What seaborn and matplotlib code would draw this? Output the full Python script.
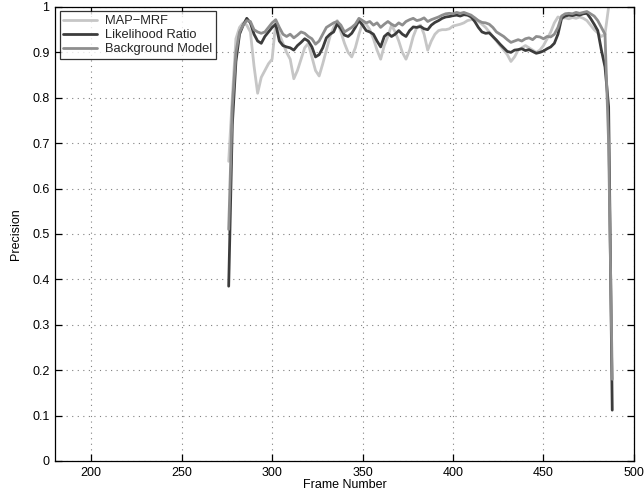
import numpy as np
import pandas as pd
import matplotlib
matplotlib.use("Agg")
import matplotlib.pyplot as plt
import seaborn as sns

# Frame numbers (every second frame)
frames = list(range(276, 490, 2))

map_mrf = [
    0.66, 0.80, 0.93, 0.955, 0.965, 0.96, 0.945, 0.87, 0.81, 0.845,
    0.86, 0.875, 0.885, 0.965, 0.94, 0.92, 0.90, 0.885, 0.842, 0.86,
    0.885, 0.91, 0.92, 0.89, 0.86, 0.848, 0.875, 0.905, 0.935, 0.955,
    0.97, 0.945, 0.92, 0.90, 0.89, 0.91, 0.94, 0.965, 0.962, 0.95,
    0.93, 0.905, 0.885, 0.915, 0.935, 0.96, 0.945, 0.925, 0.90, 0.885,
    0.905, 0.935, 0.955, 0.96, 0.94, 0.905, 0.925, 0.94, 0.948, 0.95,
    0.95, 0.952, 0.958, 0.96, 0.962, 0.965, 0.97, 0.972, 0.976, 0.968,
    0.962, 0.955, 0.945, 0.935, 0.925, 0.915, 0.905, 0.895, 0.88, 0.89,
    0.905, 0.91, 0.915, 0.91, 0.905, 0.90, 0.905, 0.915, 0.93, 0.945,
    0.965, 0.978, 0.975, 0.976, 0.974, 0.977, 0.975, 0.978, 0.975, 0.97,
    0.96, 0.95, 0.943, 0.935, 0.94, 1.0, np.nan,
]

likelihood_ratio = [
    0.385, 0.74, 0.88, 0.94, 0.96, 0.975, 0.965, 0.94, 0.925, 0.92,
    0.935, 0.945, 0.955, 0.962, 0.925, 0.915, 0.912, 0.91, 0.905, 0.915,
    0.922, 0.93, 0.925, 0.912, 0.89, 0.895, 0.91, 0.932, 0.94, 0.945,
    0.963, 0.952, 0.938, 0.935, 0.942, 0.955, 0.97, 0.96, 0.948, 0.945,
    0.94, 0.925, 0.912, 0.935, 0.942, 0.935, 0.94, 0.948, 0.94, 0.935,
    0.948, 0.956, 0.955, 0.957, 0.952, 0.95, 0.96, 0.966, 0.97, 0.975,
    0.978, 0.979, 0.981, 0.982, 0.98, 0.983, 0.982, 0.978, 0.968, 0.955,
    0.945, 0.942, 0.943, 0.935, 0.927, 0.918, 0.91, 0.902, 0.90, 0.905,
    0.906, 0.908, 0.904, 0.906, 0.902, 0.898, 0.90, 0.903, 0.908, 0.912,
    0.92, 0.94, 0.975, 0.98, 0.982, 0.981, 0.983, 0.982, 0.985, 0.986,
    0.975, 0.962, 0.948, 0.905, 0.868, 0.78, 0.112,
]

background_model = [
    0.51, 0.78, 0.90, 0.945, 0.96, 0.97, 0.968, 0.95, 0.945, 0.942,
    0.945, 0.955, 0.965, 0.972, 0.955, 0.94, 0.935, 0.94, 0.932, 0.938,
    0.945, 0.942, 0.935, 0.93, 0.918, 0.925, 0.94, 0.955, 0.96, 0.965,
    0.968, 0.96, 0.945, 0.95, 0.955, 0.962, 0.975, 0.97, 0.965, 0.968,
    0.96, 0.965, 0.955, 0.962, 0.968, 0.962, 0.958, 0.965, 0.96, 0.968,
    0.972, 0.975, 0.97, 0.972, 0.976, 0.968, 0.972, 0.975, 0.978, 0.982,
    0.985, 0.986, 0.985, 0.988, 0.986, 0.988, 0.985, 0.982, 0.976, 0.97,
    0.966, 0.965, 0.962, 0.955, 0.945, 0.94, 0.935, 0.928, 0.922, 0.925,
    0.928, 0.925, 0.93, 0.932, 0.928, 0.935, 0.934, 0.93, 0.935, 0.934,
    0.94, 0.955, 0.98, 0.985, 0.986, 0.985, 0.988, 0.986, 0.988, 0.99,
    0.985, 0.98, 0.97, 0.955, 0.94, 0.70, 0.18,
]

series_names = ["MAP\u2212MRF", "Likelihood Ratio", "Background Model"]
series_colors = ["#c6c6c6", "#3c3c3c", "#8e8e8e"]

x_ticks = [200, 250, 300, 350, 400, 450, 500]
y_ticks = [0, 0.1, 0.2, 0.3, 0.4, 0.5, 0.6, 0.7, 0.8, 0.9, 1]
y_tick_labels = ["0", "0.1", "0.2", "0.3", "0.4", "0.5", "0.6", "0.7", "0.8", "0.9", "1"]

df = pd.DataFrame({
    "Frame Number": frames * 3,
    "Precision": map_mrf + likelihood_ratio + background_model,
    "method": [series_names[0]] * len(frames)
              + [series_names[1]] * len(frames)
              + [series_names[2]] * len(frames),
})

sns.set_theme(style="white")
plt.rcParams["font.family"] = ["Liberation Sans", "DejaVu Sans"]

fig = plt.figure(figsize=(6.44, 4.98), dpi=100)
ax = fig.add_axes([0.0854, 0.0743, 0.899, 0.9117])

sns.lineplot(
    data=df, x="Frame Number", y="Precision", hue="method",
    hue_order=series_names, palette=series_colors,
    linewidth=2.0, sort=False, estimator=None, ax=ax, legend=False,
)

ax.set_xlim(180, 500)
ax.set_ylim(0, 1)
ax.set_xticks(x_ticks)
ax.set_yticks(y_ticks)
ax.set_yticklabels(y_tick_labels)

ax.grid(True, linestyle=(0, (1, 4)), color="#808080", linewidth=0.8)
ax.set_axisbelow(True)

for side in ["left", "right", "top", "bottom"]:
    ax.spines[side].set_visible(True)
    ax.spines[side].set_color("black")
    ax.spines[side].set_linewidth(0.9)

ax.tick_params(axis="both", which="major", direction="in", length=5,
               width=0.9, color="black", labelsize=9,
               top=True, right=True, bottom=True, left=True,
               labelcolor="black", pad=4)

ax.set_xlabel("Frame Number", fontsize=9, color="black", labelpad=0)
ax.set_ylabel("Precision", fontsize=9, color="black", labelpad=7)

handles = [plt.Line2D([], [], color=c, linewidth=2.0) for c in series_colors]
leg = ax.legend(handles, series_names, loc="upper left", fontsize=9.3,
                frameon=True, fancybox=False, edgecolor="black",
                borderpad=0.3, labelspacing=0.15, handlelength=2.6,
                handletextpad=0.6, borderaxespad=0.35)
leg.get_frame().set_linewidth(0.9)

fig.savefig("out.png", dpi=100, facecolor="white")
